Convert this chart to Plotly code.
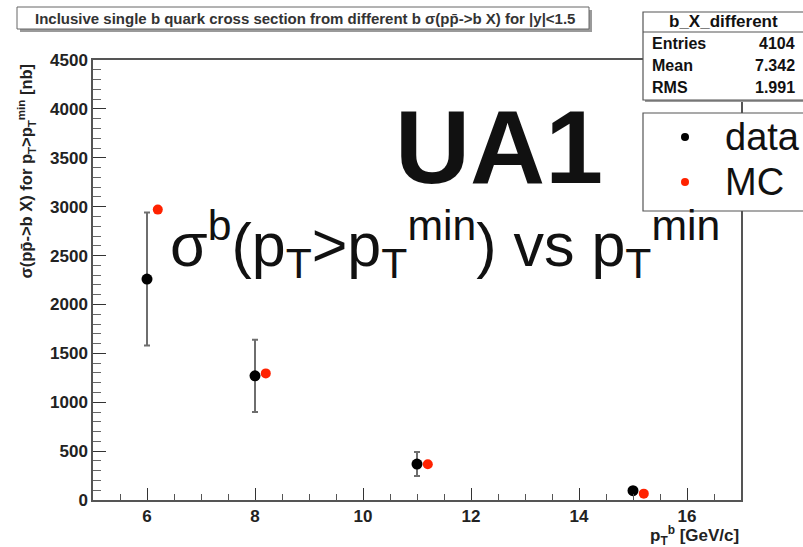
import plotly.graph_objects as go

# measured b-quark cross sections (data) and the MC prediction
pt_data = [6, 8, 11, 15]
sigma_data = [2260, 1270, 368, 95]
sigma_err = [680, 370, 123, 35]

pt_mc = [6.2, 8.2, 11.2, 15.2]
sigma_mc = [2970, 1295, 365, 65]

x_ticks = [6, 8, 10, 12, 14, 16]
y_ticks = [0, 500, 1000, 1500, 2000, 2500, 3000, 3500, 4000, 4500]

stats_rows = [("Entries", "4104"), ("Mean", "7.342"), ("RMS", "1.991")]

W, H = 803, 547
PL, PR, PT, PB = 93, 741, 60, 500
FONT = "Liberation Sans, Arial, Helvetica, sans-serif"


def fx(px):
    return (px - PL) / (PR - PL)


def fy(py):
    return (PB - py) / (PB - PT)


fig = go.Figure()

fig.add_trace(go.Scatter(
    x=pt_data, y=sigma_data, mode="markers", name="data",
    marker=dict(color="black", size=11),
    error_y=dict(type="data", array=sigma_err, color="#6e6e6e",
                 thickness=2, width=3),
    showlegend=False,
))
fig.add_trace(go.Scatter(
    x=pt_mc, y=sigma_mc, mode="markers", name="MC",
    marker=dict(color="#ff2200", size=10),
    showlegend=False,
))

shapes = []
annotations = []

# title box with shadow
shapes.append(dict(type="rect", xref="paper", yref="paper",
                   x0=fx(20), x1=fx(592), y0=fy(32), y1=fy(10),
                   fillcolor="#9a9a9a", line=dict(width=0), layer="below"))
shapes.append(dict(type="rect", xref="paper", yref="paper",
                   x0=fx(17), x1=fx(589), y0=fy(29), y1=fy(7),
                   fillcolor="white", line=dict(color="#666", width=1)))
annotations.append(dict(
    xref="paper", yref="paper", x=fx(305), y=fy(18),
    xanchor="center", yanchor="middle", showarrow=False,
    text="Inclusive single b quark cross section from different b σ(pp̄->b X) for |y|<1.5",
    font=dict(family=FONT, size=15, color="#333", weight="bold"),
))

# statistics box
shapes.append(dict(type="rect", xref="paper", yref="paper",
                   x0=fx(645), x1=fx(806), y0=fy(102), y1=fy(14),
                   fillcolor="#9a9a9a", line=dict(width=0)))
shapes.append(dict(type="rect", xref="paper", yref="paper",
                   x0=fx(643), x1=fx(806), y0=fy(100), y1=fy(12),
                   fillcolor="white", line=dict(color="#555", width=1.2)))
shapes.append(dict(type="line", xref="paper", yref="paper",
                   x0=fx(643), x1=fx(806), y0=fy(32), y1=fy(32),
                   line=dict(color="#555", width=1.2)))
annotations.append(dict(
    xref="paper", yref="paper", x=fx(723), y=fy(22),
    xanchor="center", yanchor="middle", showarrow=False,
    text="b_X_different",
    font=dict(family=FONT, size=17, color="#111", weight="bold"),
))
for i, (lab, val) in enumerate(stats_rows):
    yy = 43 + 22 * i
    annotations.append(dict(
        xref="paper", yref="paper", x=fx(650), y=fy(yy),
        xanchor="left", yanchor="middle", showarrow=False, text=lab,
        font=dict(family=FONT, size=16, color="#111", weight="bold"),
    ))
    annotations.append(dict(
        xref="paper", yref="paper", x=fx(797), y=fy(yy),
        xanchor="right", yanchor="middle", showarrow=False, text=val,
        font=dict(family=FONT, size=16, color="#111", weight="bold"),
    ))

# legend box
shapes.append(dict(type="rect", xref="paper", yref="paper",
                   x0=fx(643), x1=fx(806), y0=fy(211), y1=fy(113),
                   fillcolor="white", line=dict(color="#555", width=1.2)))
for yy, col, lab in [(137, "black", "data"), (182, "#ff2200", "MC")]:
    shapes.append(dict(type="circle", xref="paper", yref="paper",
                       x0=fx(681), x1=fx(689), y0=fy(yy + 4), y1=fy(yy - 4),
                       fillcolor=col, line=dict(width=0)))
    annotations.append(dict(
        xref="paper", yref="paper", x=fx(723), y=fy(yy),
        xanchor="left", yanchor="middle", showarrow=False, text=lab,
        font=dict(family=FONT, size=38, color="#111"),
    ))

# large overlay labels
annotations.append(dict(
    xref="paper", yref="paper", x=fx(499), y=fy(147),
    xanchor="center", yanchor="middle", showarrow=False, text="UA1",
    font=dict(family=FONT, size=104, color="#111", weight="bold"),
))
annotations.append(dict(
    xref="paper", yref="paper", x=fx(168), y=fy(244),
    xanchor="left", yanchor="middle", showarrow=False,
    text="σ<sup>b</sup>(p<sub>T</sub>>p<sub>T</sub><sup>min</sup>) vs p<sub>T</sub><sup>min</sup>",
    font=dict(family=FONT, size=61, color="#111"),
))

# axis titles
annotations.append(dict(
    xref="paper", yref="paper", x=fx(26), y=fy(62),
    xanchor="center", yanchor="top", showarrow=False, textangle=-90,
    text="σ(pp̄->b X) for p<sub>T</sub>>p<sub>T</sub><sup>min</sup> [nb]",
    font=dict(family=FONT, size=16.5, color="#222", weight="bold"),
))
annotations.append(dict(
    xref="paper", yref="paper", x=fx(741), y=fy(535),
    xanchor="right", yanchor="middle", showarrow=False,
    text="p<sub>T</sub><sup>b</sup> [GeV/c]",
    font=dict(family=FONT, size=17, color="#222", weight="bold"),
))

fig.update_layout(
    width=W, height=H,
    margin=dict(l=PL, r=W - PR, t=PT, b=H - PB),
    paper_bgcolor="white", plot_bgcolor="white",
    shapes=shapes, annotations=annotations,
    showlegend=False,
)
fig.update_xaxes(
    range=[5, 17], tickvals=x_ticks, ticks="inside", ticklen=12,
    tickcolor="#333", tickwidth=1.3,
    minor=dict(ticks="inside", dtick=0.5, ticklen=6, tickcolor="#555"),
    showgrid=False, zeroline=False,
    showline=True, linecolor="#555", linewidth=1.5, mirror=True,
    tickfont=dict(family=FONT, size=17, color="#222", weight="bold"),
)
fig.update_yaxes(
    range=[0, 4500], tickvals=y_ticks, ticks="inside", ticklen=13,
    tickcolor="#333", tickwidth=1.3,
    minor=dict(ticks="inside", dtick=100, ticklen=8, tickcolor="#666"),
    showgrid=False, zeroline=False,
    showline=True, linecolor="#555", linewidth=1.5, mirror=True,
    tickfont=dict(family=FONT, size=17, color="#222", weight="bold"),
)

fig.write_html("out.html")
